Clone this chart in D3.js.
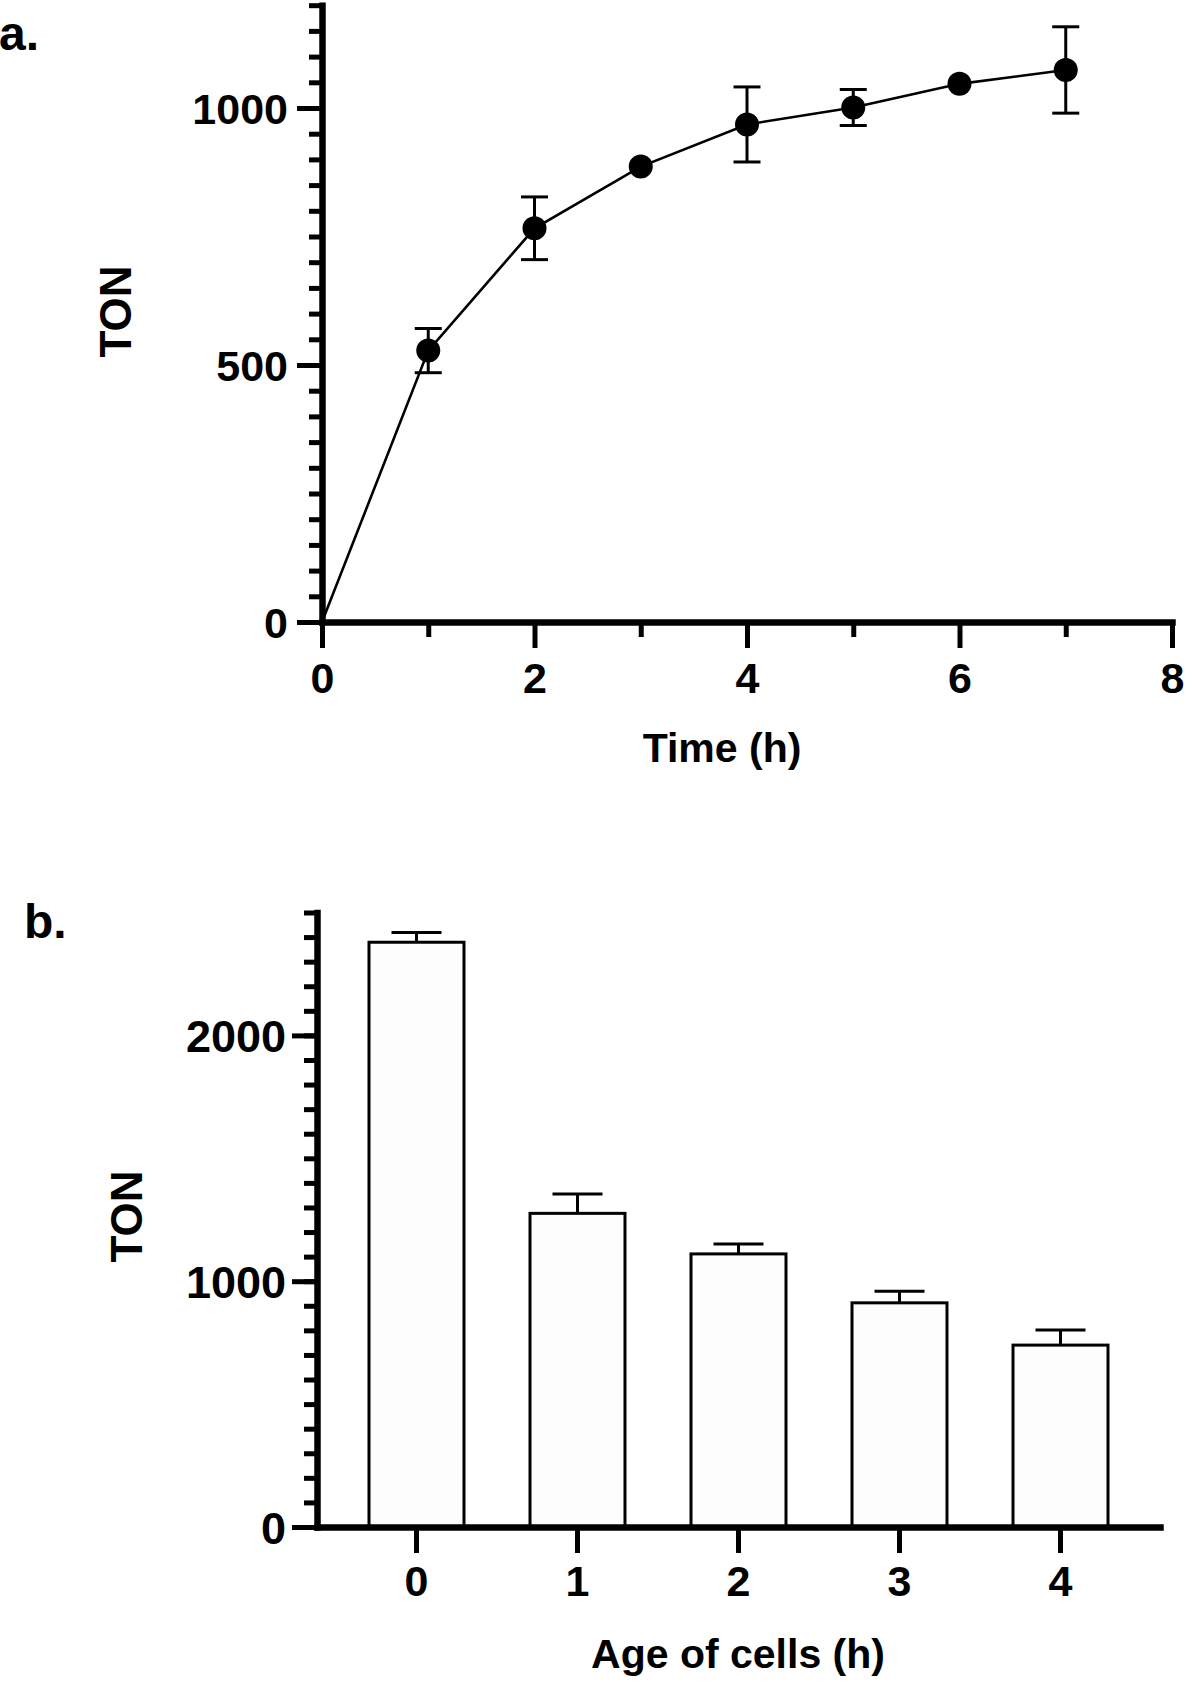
<!DOCTYPE html>
<html>
<head>
<meta charset="utf-8">
<script src="https://cdn.jsdelivr.net/npm/d3@7"></script>
<style>
  html, body { margin: 0; padding: 0; background: #fff; }
  svg { display: block; }
  text { font-family: "Liberation Sans", Arial, sans-serif; font-weight: bold; fill: #000; }
</style>
</head>
<body>
<svg id="chart" width="1200" height="1682"></svg>
<script>
// ---------- Data: panel a ----------
const timeH = [0, 1, 2, 3, 4, 5, 6, 7];
const tonA = [0, 528, 766, 886, 968, 1001, 1047, 1074];
const errA = [0, 43, 61, 0, 73, 35, 0, 84];
const xTicksA = [0, 2, 4, 6, 8];
const xMinorA = [1, 3, 5, 7];
const yTicksA = [0, 500, 1000];
const yMinorA = d3.range(0, 1201, 50);

// ---------- Data: panel b ----------
const ageCats = ["0", "1", "2", "3", "4"];
const tonB = [2379, 1276, 1111, 912, 740];
const errB = [40, 79, 40, 47, 61];
const yTicksB = [0, 1000, 2000];
const yMinorB = d3.range(0, 2501, 100);

const svg = d3.select("#chart");
svg.append("rect").attr("width", 1200).attr("height", 1682).attr("fill", "#fff");

const AXIS_W = 6.5, TICK_W = 5;

function styleAxis(g, fontSize) {
  g.select(".domain").attr("stroke", "#000").attr("stroke-width", AXIS_W).attr("stroke-linecap", "square");
  g.selectAll(".tick line").attr("stroke", "#000").attr("stroke-width", TICK_W);
  g.selectAll(".tick text").attr("font-size", fontSize).attr("fill", "#000")
    .style("font-family", "'Liberation Sans', Arial, sans-serif").style("font-weight", "bold");
}

// ================= Panel a =================
const xA = d3.scaleLinear().domain([0, 8]).range([322, 1172]);
const yA = d3.scaleLinear().domain([0, 1200]).range([622, 5.2]);

// minor ticks
svg.append("g").attr("transform", `translate(${xA(0)},0)`)
  .call(d3.axisLeft(yA).tickValues(yMinorA).tickSize(13).tickFormat(""))
  .call(g => { styleAxis(g, 0); g.select(".domain").remove(); });
svg.append("g").attr("transform", `translate(0,${yA(0)})`)
  .call(d3.axisBottom(xA).tickValues(xMinorA).tickSize(15).tickFormat(""))
  .call(g => { styleAxis(g, 0); g.select(".domain").remove(); });

// major axes
svg.append("g").attr("transform", `translate(${xA(0)},0)`)
  .call(d3.axisLeft(yA).tickValues(yTicksA).tickSize(25).tickSizeOuter(0).tickPadding(9).tickFormat(d3.format("d")))
  .call(g => styleAxis(g, 43))
  .call(g => g.selectAll(".tick text").attr("dy", "0.36em"));
svg.append("g").attr("transform", `translate(0,${yA(0)})`)
  .call(d3.axisBottom(xA).tickValues(xTicksA).tickSize(26).tickSizeOuter(0).tickPadding(14).tickFormat(d3.format("d")))
  .call(g => styleAxis(g, 43));

// line
const ptsA = timeH.map((t, i) => ({ t, v: tonA[i], e: errA[i] }));
svg.append("path").datum(ptsA)
  .attr("fill", "none").attr("stroke", "#000").attr("stroke-width", 2.6)
  .attr("d", d3.line().x(d => xA(d.t)).y(d => yA(d.v)));

// error bars
const errGA = svg.append("g").attr("stroke", "#000").attr("stroke-width", 3);
ptsA.filter(d => d.e > 0).forEach(d => {
  const x = xA(d.t), y1 = yA(d.v + d.e), y2 = yA(d.v - d.e);
  errGA.append("line").attr("x1", x).attr("x2", x).attr("y1", y1).attr("y2", y2);
  errGA.append("line").attr("x1", x - 13.5).attr("x2", x + 13.5).attr("y1", y1).attr("y2", y1);
  errGA.append("line").attr("x1", x - 13.5).attr("x2", x + 13.5).attr("y1", y2).attr("y2", y2);
});

// markers
svg.append("g").selectAll("circle").data(ptsA.filter(d => d.t > 0)).join("circle")
  .attr("cx", d => xA(d.t)).attr("cy", d => yA(d.v)).attr("r", 12).attr("fill", "#000");

// titles
svg.append("text").attr("x", 722).attr("y", 762).attr("text-anchor", "middle").attr("font-size", 41).text("Time (h)");
svg.append("text").attr("transform", "translate(131,311.5) rotate(-90)").attr("text-anchor", "middle").attr("font-size", 44).text("TON");
svg.append("text").attr("x", -1).attr("y", 50).attr("font-size", 48).text("a.");

// ================= Panel b =================
const xB = d3.scaleBand().domain(ageCats).range([317, 1160]).paddingInner(0.41).paddingOuter(0.323);
const yB = d3.scaleLinear().domain([0, 2500]).range([1527, 912.5]);

// bars
const barsB = ageCats.map((c, i) => ({ c, v: tonB[i], e: errB[i] }));
svg.append("g").selectAll("rect").data(barsB).join("rect")
  .attr("x", d => xB(d.c)).attr("y", d => yB(d.v))
  .attr("width", xB.bandwidth()).attr("height", d => yB(0) - yB(d.v))
  .attr("fill", "#fdfdfd").attr("stroke", "#000").attr("stroke-width", 3);

// error bars (upper)
const errGB = svg.append("g").attr("stroke", "#000").attr("stroke-width", 3);
barsB.forEach(d => {
  const x = xB(d.c) + xB.bandwidth() / 2, y0 = yB(d.v), y1 = yB(d.v + d.e);
  errGB.append("line").attr("x1", x).attr("x2", x).attr("y1", y0).attr("y2", y1);
  errGB.append("line").attr("x1", x - 25).attr("x2", x + 25).attr("y1", y1).attr("y2", y1);
});

// minor ticks
svg.append("g").attr("transform", `translate(317,0)`)
  .call(d3.axisLeft(yB).tickValues(yMinorB).tickSize(13).tickFormat(""))
  .call(g => { styleAxis(g, 0); g.select(".domain").remove(); });

// axes
svg.append("g").attr("transform", `translate(317,0)`)
  .call(d3.axisLeft(yB).tickValues(yTicksB).tickSize(25).tickSizeOuter(0).tickPadding(6).tickFormat(d3.format("d")))
  .call(g => styleAxis(g, 45))
  .call(g => g.selectAll(".tick text").attr("dy", "0.36em"));
svg.append("g").attr("transform", `translate(0,${yB(0)})`)
  .call(d3.axisBottom(xB).tickSize(26).tickSizeOuter(0).tickPadding(12))
  .call(g => styleAxis(g, 43));

// titles
svg.append("text").attr("x", 738).attr("y", 1668).attr("text-anchor", "middle").attr("font-size", 41).text("Age of cells (h)");
svg.append("text").attr("transform", "translate(142,1216.5) rotate(-90)").attr("text-anchor", "middle").attr("font-size", 44).text("TON");
svg.append("text").attr("x", 24).attr("y", 938).attr("font-size", 48).text("b.");
</script>
</body>
</html>
